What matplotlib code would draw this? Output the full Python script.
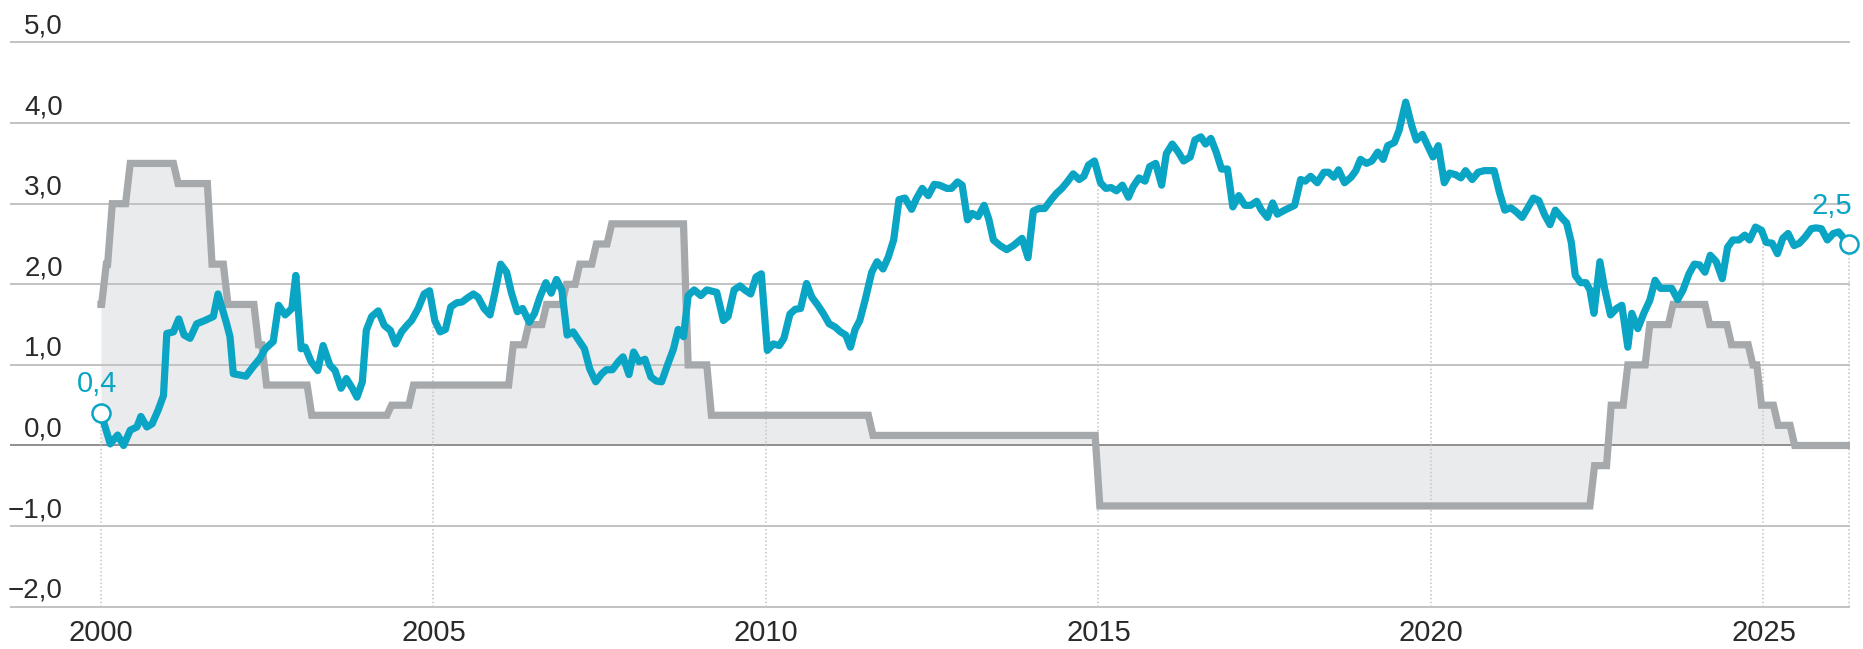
import numpy as np
import matplotlib
matplotlib.use("Agg")
import matplotlib.pyplot as plt
import matplotlib.transforms as mtransforms

plt.rcParams['font.family'] = ['Liberation Sans', 'DejaVu Sans']

# policy rate (grey steps): start of each level and the level
policy_start = [2000.00, 2000.08, 2000.17, 2000.44, 2001.16, 2001.67, 2001.91, 2002.37,
                2002.49, 2003.17, 2004.37, 2004.70, 2006.20, 2006.43, 2006.70, 2007.00,
                2007.20, 2007.45, 2007.68, 2008.83, 2009.18, 2011.61, 2015.02, 2022.46,
                2022.71, 2022.96, 2023.29, 2023.64, 2024.19, 2024.52, 2024.84, 2024.97,
                2025.22, 2025.47]
policy_level = [1.75, 2.25, 3.0, 3.5, 3.25, 2.25, 1.75, 1.25,
                0.75, 0.375, 0.5, 0.75, 1.25, 1.5, 1.75, 2.0,
                2.25, 2.5, 2.75, 1.0, 0.375, 0.125, -0.75, -0.25,
                0.5, 1.0, 1.5, 1.75, 1.5, 1.25, 1.0, 0.5,
                0.25, 0.0]
series_end = 2026.28

# blue series
blue_dates = [
    2000.00, 2000.14, 2000.25, 2000.34, 2000.44, 2000.54, 2000.60, 2000.69, 2000.77, 2000.86,
    2000.94, 2000.99, 2001.09, 2001.17, 2001.25, 2001.34, 2001.44, 2001.56, 2001.69, 2001.76,
    2001.89, 2001.94, 2001.99, 2002.18, 2002.29, 2002.39, 2002.47, 2002.59, 2002.67, 2002.77,
    2002.87, 2002.93, 2003.01, 2003.07, 2003.16, 2003.26, 2003.34, 2003.44, 2003.52, 2003.61,
    2003.69, 2003.78, 2003.85, 2003.93, 2003.99, 2004.07, 2004.17, 2004.26, 2004.35, 2004.43,
    2004.52, 2004.60, 2004.67, 2004.77, 2004.86, 2004.94, 2005.02, 2005.10, 2005.18, 2005.26,
    2005.35, 2005.43, 2005.51, 2005.60, 2005.67, 2005.76, 2005.85, 2005.92, 2006.01, 2006.10,
    2006.17, 2006.26, 2006.34, 2006.44, 2006.52, 2006.60, 2006.69, 2006.77, 2006.85, 2006.93,
    2007.01, 2007.10, 2007.18, 2007.27, 2007.35, 2007.44, 2007.53, 2007.60, 2007.69, 2007.78,
    2007.85, 2007.94, 2008.01, 2008.09, 2008.18, 2008.27, 2008.35, 2008.43, 2008.52, 2008.61,
    2008.68, 2008.76, 2008.83, 2008.92, 2009.02, 2009.11, 2009.26, 2009.36, 2009.43, 2009.52,
    2009.61, 2009.68, 2009.77, 2009.85, 2009.93, 2010.02, 2010.11, 2010.20, 2010.27, 2010.36,
    2010.44, 2010.52, 2010.61, 2010.69, 2010.78, 2010.86, 2010.95, 2011.04, 2011.12, 2011.20,
    2011.27, 2011.34, 2011.41, 2011.49, 2011.59, 2011.67, 2011.76, 2011.84, 2011.92, 2012.00,
    2012.09, 2012.19, 2012.26, 2012.35, 2012.44, 2012.53, 2012.61, 2012.72, 2012.79, 2012.88,
    2012.95, 2013.03, 2013.10, 2013.19, 2013.28, 2013.35, 2013.42, 2013.52, 2013.62, 2013.72,
    2013.85, 2013.94, 2014.02, 2014.10, 2014.19, 2014.28, 2014.37, 2014.45, 2014.53, 2014.62,
    2014.71, 2014.78, 2014.85, 2014.94, 2015.03, 2015.11, 2015.19, 2015.27, 2015.36, 2015.45,
    2015.52, 2015.61, 2015.70, 2015.77, 2015.86, 2015.95, 2016.02, 2016.11, 2016.20, 2016.28,
    2016.38, 2016.45, 2016.54, 2016.61, 2016.69, 2016.77, 2016.85, 2016.94, 2017.02, 2017.11,
    2017.20, 2017.29, 2017.38, 2017.45, 2017.54, 2017.62, 2017.69, 2017.80, 2017.95, 2018.04,
    2018.11, 2018.19, 2018.29, 2018.39, 2018.46, 2018.54, 2018.61, 2018.70, 2018.80, 2018.87,
    2018.94, 2019.03, 2019.11, 2019.20, 2019.28, 2019.35, 2019.45, 2019.52, 2019.62, 2019.71,
    2019.78, 2019.87, 2019.95, 2020.03, 2020.11, 2020.20, 2020.28, 2020.37, 2020.45, 2020.52,
    2020.62, 2020.71, 2020.80, 2020.95, 2021.03, 2021.11, 2021.20, 2021.28, 2021.37, 2021.45,
    2021.54, 2021.62, 2021.71, 2021.79, 2021.87, 2021.96, 2022.04, 2022.11, 2022.17, 2022.25,
    2022.33, 2022.39, 2022.45, 2022.54, 2022.61, 2022.70, 2022.79, 2022.87, 2022.96, 2023.02,
    2023.11, 2023.20, 2023.29, 2023.37, 2023.45, 2023.54, 2023.62, 2023.71, 2023.79, 2023.88,
    2023.96, 2024.04, 2024.12, 2024.20, 2024.29, 2024.38, 2024.46, 2024.54, 2024.63, 2024.72,
    2024.79, 2024.88, 2024.97, 2025.04, 2025.13, 2025.21, 2025.29, 2025.37, 2025.46, 2025.54,
    2025.63, 2025.72, 2025.79, 2025.87, 2025.96, 2026.05, 2026.13, 2026.28]
blue_values = [
    0.40, 0.02, 0.13, 0.00, 0.19, 0.23, 0.36, 0.23, 0.27, 0.44,
    0.62, 1.39, 1.41, 1.57, 1.37, 1.33, 1.51, 1.55, 1.60, 1.88,
    1.51, 1.35, 0.89, 0.86, 0.98, 1.08, 1.20, 1.29, 1.74, 1.62,
    1.70, 2.11, 1.20, 1.22, 1.04, 0.93, 1.24, 1.00, 0.93, 0.71,
    0.83, 0.71, 0.60, 0.79, 1.43, 1.60, 1.67, 1.49, 1.43, 1.26,
    1.41, 1.49, 1.55, 1.70, 1.88, 1.92, 1.55, 1.41, 1.44, 1.72,
    1.77, 1.78, 1.83, 1.88, 1.84, 1.70, 1.62, 1.88, 2.25, 2.15,
    1.90, 1.66, 1.70, 1.53, 1.64, 1.84, 2.02, 1.89, 2.06, 1.93,
    1.37, 1.41, 1.31, 1.20, 0.95, 0.79, 0.89, 0.94, 0.94, 1.04,
    1.10, 0.88, 1.16, 1.04, 1.07, 0.85, 0.80, 0.79, 1.00, 1.20,
    1.44, 1.35, 1.86, 1.93, 1.86, 1.93, 1.90, 1.55, 1.60, 1.93,
    1.98, 1.93, 1.88, 2.09, 2.13, 1.18, 1.26, 1.24, 1.33, 1.63,
    1.69, 1.70, 2.01, 1.84, 1.74, 1.64, 1.51, 1.47, 1.41, 1.37,
    1.22, 1.44, 1.55, 1.80, 2.15, 2.28, 2.19, 2.34, 2.55, 3.05,
    3.07, 2.93, 3.06, 3.19, 3.10, 3.24, 3.23, 3.19, 3.19, 3.27,
    3.23, 2.80, 2.88, 2.84, 2.98, 2.81, 2.55, 2.48, 2.43, 2.48,
    2.57, 2.33, 2.91, 2.94, 2.94, 3.04, 3.13, 3.19, 3.27, 3.37,
    3.30, 3.34, 3.48, 3.53, 3.26, 3.19, 3.20, 3.16, 3.23, 3.08,
    3.21, 3.32, 3.28, 3.46, 3.50, 3.23, 3.62, 3.74, 3.64, 3.53,
    3.58, 3.79, 3.83, 3.74, 3.81, 3.64, 3.43, 3.43, 2.96, 3.10,
    2.98, 2.98, 3.03, 2.92, 2.83, 3.01, 2.87, 2.92, 2.98, 3.30,
    3.28, 3.34, 3.26, 3.39, 3.39, 3.33, 3.42, 3.26, 3.33, 3.41,
    3.55, 3.50, 3.53, 3.64, 3.55, 3.72, 3.76, 3.91, 4.26, 3.97,
    3.79, 3.86, 3.72, 3.58, 3.72, 3.26, 3.38, 3.36, 3.32, 3.41,
    3.30, 3.39, 3.41, 3.41, 3.14, 2.92, 2.95, 2.90, 2.83, 2.94,
    3.07, 3.04, 2.86, 2.74, 2.92, 2.83, 2.76, 2.52, 2.11, 2.02,
    2.02, 1.93, 1.64, 2.28, 1.95, 1.62, 1.70, 1.74, 1.22, 1.64,
    1.45, 1.64, 1.80, 2.05, 1.95, 1.95, 1.95, 1.81, 1.93, 2.13,
    2.25, 2.24, 2.15, 2.36, 2.28, 2.07, 2.46, 2.55, 2.55, 2.61,
    2.55, 2.71, 2.67, 2.52, 2.51, 2.38, 2.57, 2.63, 2.48, 2.51,
    2.59, 2.69, 2.70, 2.69, 2.55, 2.63, 2.65, 2.50]

y_ticks = [5, 4, 3, 2, 1, 0, -1, -2]
x_ticks = [2000, 2005, 2010, 2015, 2020, 2025]

blue = '#0aa4c4'
grey = '#a5a9ac'
fill = '#eaebec'
text_col = '#2a2a2a'

# build the step path with a short slope between levels
ramp = 0.07
px, py = [], []
for i, (s, lv) in enumerate(zip(policy_start, policy_level)):
    end = policy_start[i + 1] - ramp if i + 1 < len(policy_start) else series_end
    px += [s, max(s, end)]
    py += [lv, lv]

fig = plt.figure(figsize=(18.63, 6.49), dpi=100)
ax = fig.add_axes([10 / 1863, 34 / 649, 1840 / 1863, 585 / 649])
ax.set_xlim(1998.632, 2026.301)
ax.set_ylim(-2.103, 5.155)
for s in ax.spines.values():
    s.set_visible(False)

ax.fill_between(px, py, 0, color=fill, lw=0, zorder=1)
for v in y_ticks:
    ax.axhline(v, color='#8f8f8f' if v == 0 else '#c2c2c2', lw=1.4, zorder=2)

# dotted drop lines from the blue series
for x in x_ticks + [blue_dates[-1]]:
    ax.vlines(x, -2, np.interp(x, blue_dates, blue_values), colors='#c4c4c4',
              lw=1.1, linestyles=(0, (1, 1.5)), zorder=2.5)

ax.plot(px, py, color=grey, lw=5.2, solid_joinstyle='miter', zorder=3)
ax.plot(blue_dates, blue_values, color=blue, lw=5.2, solid_joinstyle='round', zorder=4)
ax.plot([blue_dates[0], blue_dates[-1]], [blue_values[0], blue_values[-1]], 'o', ms=13,
        mfc='white', mec=blue, mew=1.8, zorder=5, clip_on=False)

fmt = lambda v: f"{v:.1f}".replace('.', ',').replace('-', '\u2212')
ax.annotate(fmt(blue_values[0]), (blue_dates[0], blue_values[0]), xytext=(-3, 11),
            textcoords='offset points', ha='center', va='bottom', color=blue, fontsize=21,
            annotation_clip=False)
ax.annotate(fmt(blue_values[-1]), (blue_dates[-1], blue_values[-1]), xytext=(-12, 17),
            textcoords='offset points', ha='center', va='bottom', color=blue, fontsize=21,
            annotation_clip=False)

# y labels sit above the gridlines at the left
trans = mtransforms.offset_copy(ax.get_yaxis_transform(), fig=fig, y=9, units='dots')
for v in y_ticks:
    ax.text(0.0288, v, fmt(v), transform=trans, ha='right', va='baseline',
            fontsize=20, color=text_col)
ax.set_yticks([])

ax.set_xticks(x_ticks)
ax.set_xticklabels([str(y) for y in x_ticks], fontsize=21, color=text_col)
ax.tick_params(axis='x', length=0, pad=3)

fig.savefig('out.png', dpi=100)
